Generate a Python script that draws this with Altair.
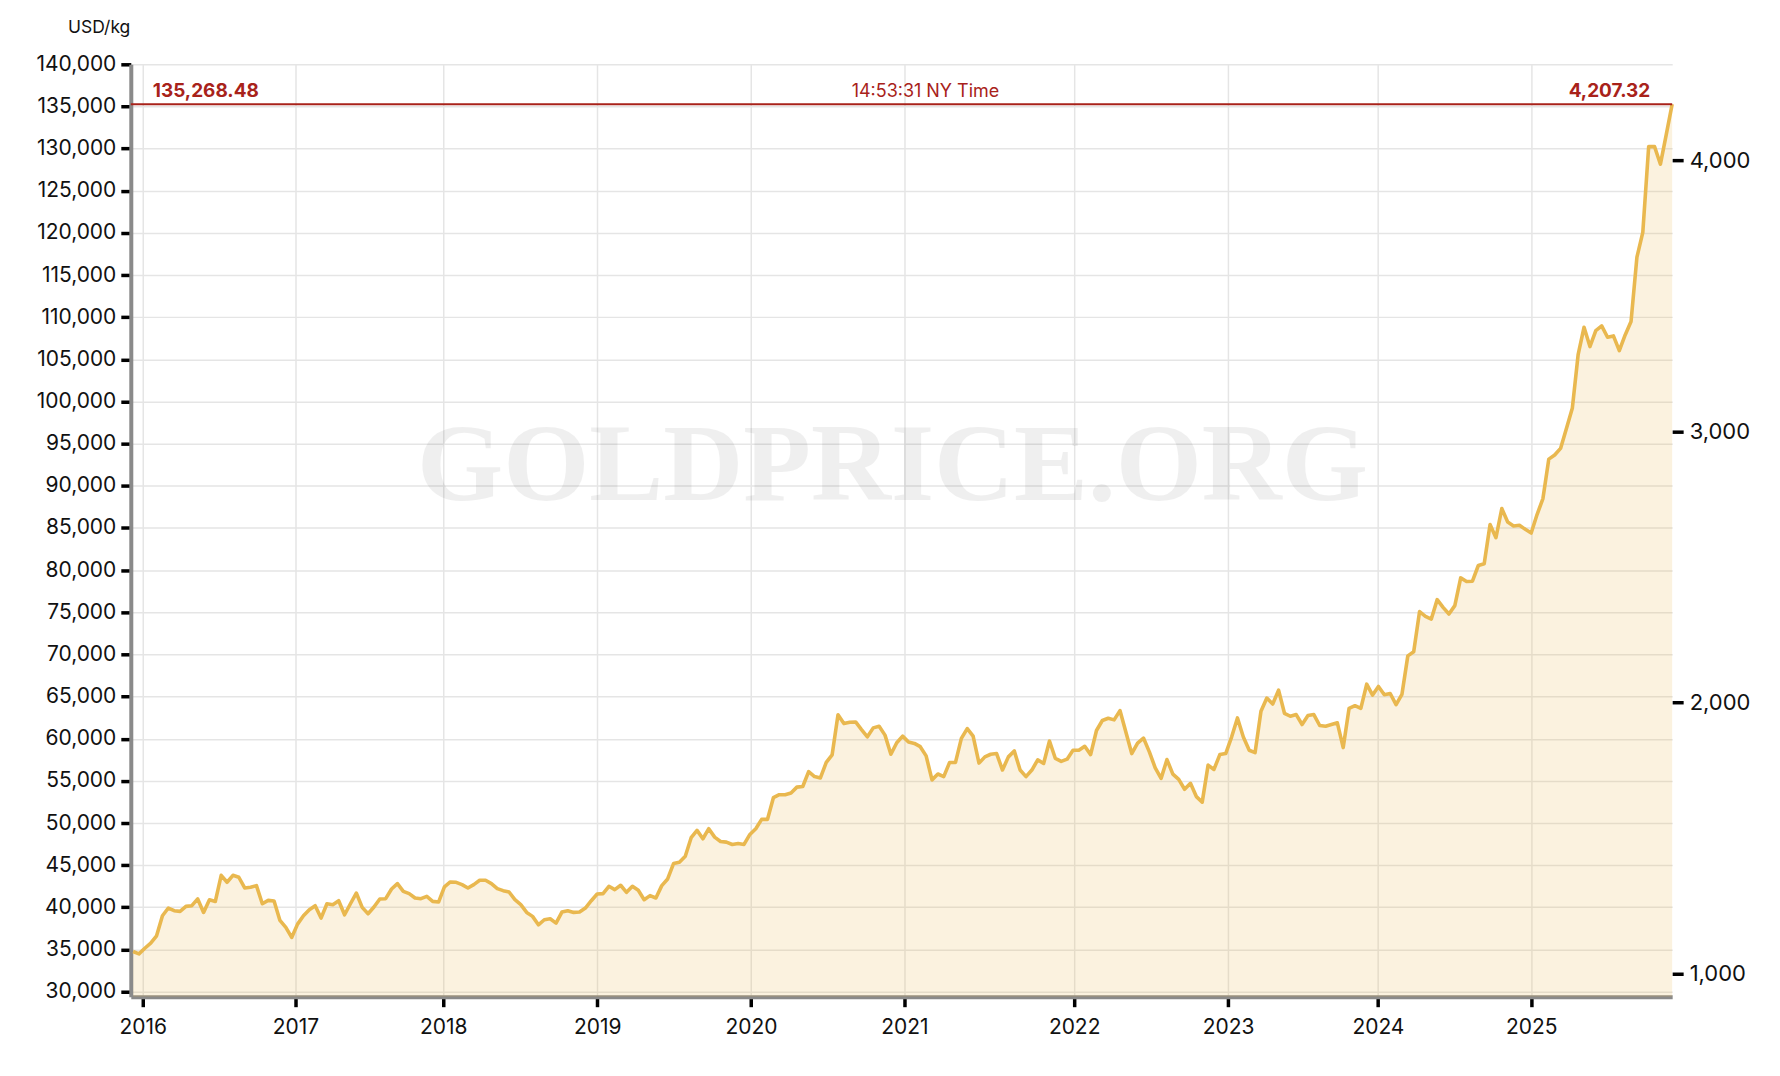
import altair as alt
import pandas as pd

# ---- data (USD per kg, sequential samples) ----
price_kg = [
    34760, 34480, 35150, 35750, 36620, 39000, 39920, 39600, 39520, 40120,
    40200, 41000, 39400, 40900, 40700, 43800, 42980, 43800, 43570, 42300,
    42380, 42580, 40430, 40830, 40750, 38450, 37620, 36430, 38010, 39000,
    39720, 40200, 38730, 40430, 40320, 40790, 39120, 40430, 41700, 40000,
    39240, 40040, 40990, 41030, 42180, 42820, 41900, 41630, 41110, 41030,
    41300, 40710, 40630, 42420, 43010,
    42970, 42700, 42300, 42700, 43210, 43210, 42820, 42220, 41980, 41820,
    40910, 40320, 39400, 38930, 37930, 38530, 38650, 38130, 39440, 39600,
    39400, 39440, 39920, 40790, 41590, 41630, 42500, 42100, 42620, 41780,
    42500, 42020, 40910, 41390, 41110, 42580, 43370, 45200, 45360, 46070,
    48260, 49130, 48140, 49330, 48330, 47820, 47740, 47460, 47580, 47460,
    48650, 49330, 50440, 50440,
    53010, 53360, 53360, 53560, 54260, 54340, 56090, 55510, 55350, 57190,
    58090, 62850, 61800, 61950, 61990, 61090, 60230, 61290, 61480, 60430,
    58160, 59530, 60310, 59610, 59450, 59060, 57970, 55120, 55820, 55510,
    57190, 57190, 60040, 61210, 60310, 57110, 57850, 58160, 58240, 56290,
    57850, 58560, 56290, 55510, 56290, 57500, 57070, 59730, 57660, 57310,
    57580, 58630,
    58630, 59100, 58120, 60980, 62160, 62430, 62240, 63340, 60790, 58240,
    59490, 60080, 58440, 56550, 55300, 57530, 55810, 55180, 54010, 54710,
    53140, 52480, 56870, 56360, 58120, 58240, 60200, 62470, 60200, 58630,
    58360, 63260, 64830, 64120, 65770, 63020, 62670, 62870, 61690, 62750,
    62870, 61570, 61490, 61690, 61890, 58950, 63610, 63920, 63610, 66470,
    65180, 66200, 65220, 65370, 64040,
    65270, 69830, 70310, 75080, 74520, 74200, 76500, 75590, 74800, 75790,
    79080, 78650, 78690, 80550, 80750, 85400, 83850, 87300, 85710, 85240,
    85320, 84840, 84400, 86590, 88490,
    93170, 93650, 94440, 96810, 99190, 105600, 108810, 106520, 108420, 108970,
    107620, 107780, 106040, 107900, 109500,
    117120, 120070, 130240, 130240, 128150, 131690, 135268.48,
]

year_labels = ["2016", "2017", "2018", "2019", "2020", "2021", "2022", "2023", "2024", "2025"]
year_pos = [1.65, 27.65, 52.8, 79.0, 105.2, 131.3, 160.2, 186.4, 211.9, 238.0]
kg_ticks = list(range(30000, 140001, 5000))
oz_ticks = [1000, 2000, 3000, 4000]
current_kg = 135268.48
current_oz = 4207.32
time_label = ["14:53:31 NY Time"]
watermark = ["GOLDPRICE.ORG"]
OZ_PER_KG = 32.1507

Y_MIN, Y_MAX = 29400, 140000
X_MIN, X_MAX = -0.39, len(price_kg) - 1

df = pd.DataFrame({"i": list(range(len(price_kg))), "kg": price_kg})
df["oz"] = df["kg"] / OZ_PER_KG

GOLD = "#e9b84f"
RED = "#a8221a"
FONT = "Inter"

lab_expr = ("[" + ",".join(f"'{y}'" for y in year_labels) + "][indexof(["
            + ",".join(str(p) for p in year_pos) + "], datum.value)]")

xscale = alt.Scale(domain=[X_MIN, X_MAX], nice=False, zero=False)
yscale = alt.Scale(domain=[Y_MIN, Y_MAX], nice=False, zero=False)

x_axis = alt.Axis(values=year_pos, labelExpr=lab_expr, title=None, grid=True,
                  domainColor="#8a8a8a", domainWidth=4, tickColor="#000",
                  tickWidth=3.5, tickSize=10, labelFontSize=21, labelPadding=10,
                  labelColor="#111", labelFlush=False)
y_axis = alt.Axis(values=kg_ticks, format=",d", title="USD/kg", titleAngle=0,
                  titleX=-1, titleY=-37, titleAlign="right", titleBaseline="middle",
                  titleFontSize=17.5, titleFontWeight="normal", titleColor="#111",
                  grid=True, domainColor="#8a8a8a", domainWidth=4, tickColor="#000",
                  tickWidth=3.5, tickSize=10, labelFontSize=21, labelPadding=5,
                  labelColor="#111")

xenc = alt.X("i:Q", scale=xscale, axis=x_axis)
yenc = alt.Y("kg:Q", scale=yscale, axis=y_axis)
ref_y = alt.YDatum(current_kg, scale=yscale, axis=y_axis)

wm = alt.Chart(pd.DataFrame({"t": watermark})).mark_text(
    font="Liberation Serif", fontWeight="bold", fontSize=111, color="#000",
    opacity=0.06, align="center", baseline="alphabetic",
).encode(text="t:N", x=alt.value(763), y=alt.value(436))

area = alt.Chart(df).mark_area(color=GOLD, opacity=0.18).encode(
    x=xenc, y=yenc, y2=alt.datum(Y_MIN)
)
line = alt.Chart(df).mark_line(color=GOLD, strokeWidth=3.6, strokeJoin="round").encode(
    x=xenc, y=yenc
)

rule = alt.Chart(pd.DataFrame({"v": [current_kg]})).mark_rule(color=RED, strokeWidth=2).encode(
    y=ref_y
)
left_lab = alt.Chart(pd.DataFrame({"t": [f"{current_kg:,.2f}"]})).mark_text(
    font=FONT, fontWeight="bold", fontSize=19, color=RED, align="left",
    baseline="alphabetic", dy=-7,
).encode(text="t:N", x=alt.value(22), y=ref_y)
mid_lab = alt.Chart(pd.DataFrame({"t": time_label})).mark_text(
    font=FONT, fontSize=18, color=RED, align="center", baseline="alphabetic", dy=-7,
).encode(text="t:N", x=alt.value(796), y=ref_y)
right_lab = alt.Chart(pd.DataFrame({"t": [f"{current_oz:,.2f}"]})).mark_text(
    font=FONT, fontWeight="bold", fontSize=19, color=RED, align="right",
    baseline="alphabetic", dy=-7,
).encode(text="t:N", x=alt.value(1522), y=ref_y)

main = alt.layer(wm, area, line, rule, left_lab, mid_lab, right_lab)

right_axis = alt.Chart(df).mark_line(opacity=0).encode(
    x=xenc,
    y=alt.Y("oz:Q",
            scale=alt.Scale(domain=[Y_MIN / OZ_PER_KG, Y_MAX / OZ_PER_KG], nice=False, zero=False),
            axis=alt.Axis(orient="right", values=oz_ticks, format=",d", title=None,
                          grid=False, domain=False, tickColor="#000", tickWidth=3.5,
                          tickSize=11, labelFontSize=22, labelPadding=6,
                          labelColor="#111")),
)

chart = alt.layer(main, right_axis).resolve_scale(y="independent").properties(
    width=1544, height=934, autosize="none",
    padding={"left": 123, "top": 55.5, "right": 100, "bottom": 70},
).configure_view(stroke=None).configure_axis(
    labelFont=FONT, titleFont=FONT, gridColor="#e5e5e5", gridWidth=1.5,
)

chart.save("out.html", embed_options={"renderer": "svg", "actions": False})
